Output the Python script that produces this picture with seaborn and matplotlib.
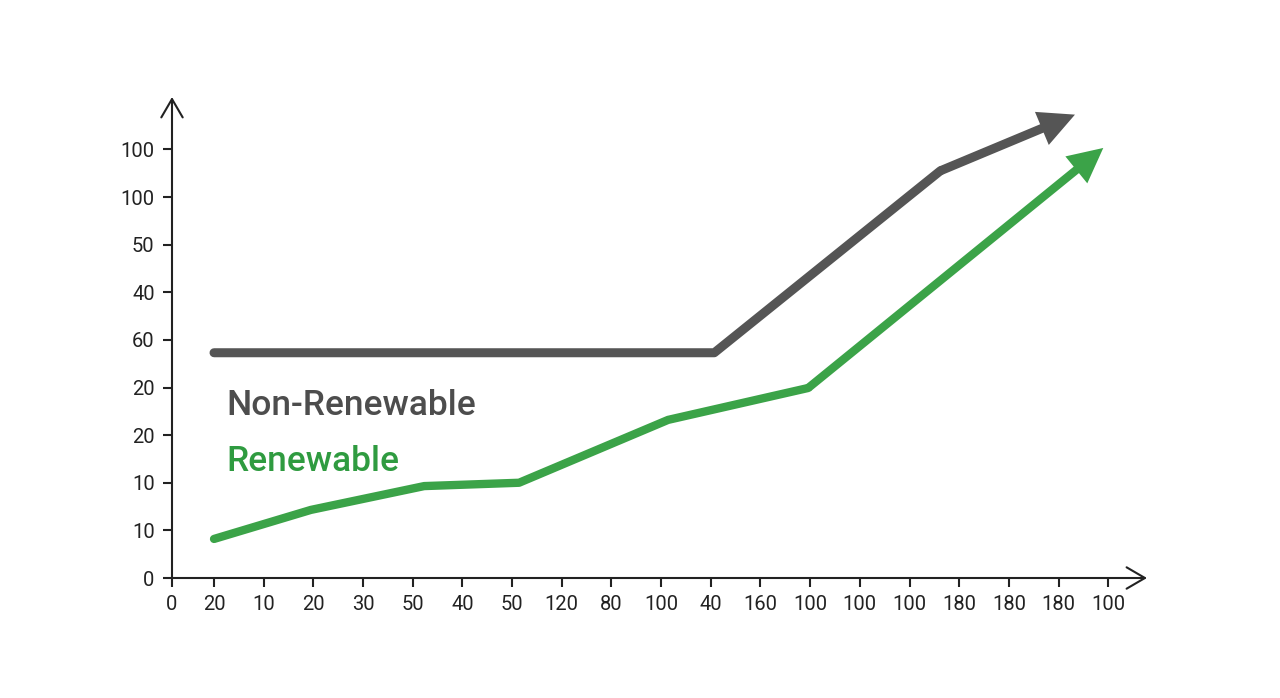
import seaborn as sns
import matplotlib.pyplot as plt

# Tick labels as printed on the chart
y_labels = ['0', '10', '10', '20', '20', '60', '40', '50', '100', '100']
x_labels = ['0', '20', '10', '20', '30', '50', '40', '50', '120', '80', '100',
            '40', '160', '100', '100', '100', '180', '180', '180', '100']

# Series, in tick units (x: tick index from the "20" tick, y: tick index)
nonren_x = [0, 10.07, 14.62, 17.33]
nonren_y = [4.73, 4.73, 8.55, 9.73]
ren_x = [0, 1.95, 4.23, 6.14, 9.14, 11.96, 17.9]
ren_y = [0.82, 1.43, 1.93, 2.0, 3.32, 3.99, 9.03]

gray = '#555555'
green = '#3ba348'

sns.set_style('white')
plt.rcParams['font.family'] = ['Roboto', 'DejaVu Sans']

fig = plt.figure(figsize=(12.8, 6.98), dpi=100)
ax = fig.add_axes([172 / 1280, (698 - 578) / 698, (1147 - 172) / 1280, (578 - 97) / 698])

# lines (all but the last segment), last segment is drawn as an arrow
sns.lineplot(x=nonren_x[:-1], y=nonren_y[:-1], ax=ax, color=gray, lw=6.5,
             solid_capstyle='round', solid_joinstyle='round', sort=False)
sns.lineplot(x=ren_x[:-1], y=ren_y[:-1], ax=ax, color=green, lw=6.0,
             solid_capstyle='round', solid_joinstyle='round', sort=False)

for xs, ys, c, w in [(nonren_x, nonren_y, gray, 6.5), (ren_x, ren_y, green, 6.0)]:
    ax.annotate('', xy=(xs[-1], ys[-1]), xytext=(xs[-2], ys[-2]),
                arrowprops=dict(arrowstyle='-|>,head_length=0.9,head_width=0.45',
                                color=c, lw=w, mutation_scale=17,
                                shrinkA=0, shrinkB=0, joinstyle='miter',
                                capstyle='butt'))

ax.text(0.24, 3.42, 'Non-Renewable', color='#4d4d4d', fontsize=25.5,
        fontweight='medium', va='baseline', ha='left')
ax.text(0.24, 2.25, 'Renewable', color='#2f9b40', fontsize=25.5,
        fontweight='medium', va='baseline', ha='left')

ax.set_xlim(-0.846, 18.78)
ax.set_ylim(0, 10.1)
x_pos = [-0.846] + list(range(len(x_labels) - 1))
ax.set_xticks(x_pos)
ax.set_xticklabels(x_labels)
ax.set_yticks(range(len(y_labels)))
ax.set_yticklabels(y_labels)

for s in ax.spines.values():
    s.set_visible(False)

# axes with open arrow heads
ax.annotate('', xy=(1, 0), xytext=(0, 0), xycoords='axes fraction',
            arrowprops=dict(arrowstyle='->,head_length=0.6,head_width=0.35',
                            color='#222222', lw=1.5, mutation_scale=22,
                            shrinkA=0, shrinkB=0))
ax.annotate('', xy=(0, 1), xytext=(0, 0), xycoords='axes fraction',
            arrowprops=dict(arrowstyle='->,head_length=0.6,head_width=0.35',
                            color='#222222', lw=1.5, mutation_scale=22,
                            shrinkA=0, shrinkB=0))

ax.tick_params(axis='both', direction='out', length=6.5, width=1.5,
               color='#222222', labelsize=14.5, labelcolor='#222222', pad=6)
ax.tick_params(left=True, bottom=True)
ax.grid(False)

fig.savefig('out.png', dpi=100)
